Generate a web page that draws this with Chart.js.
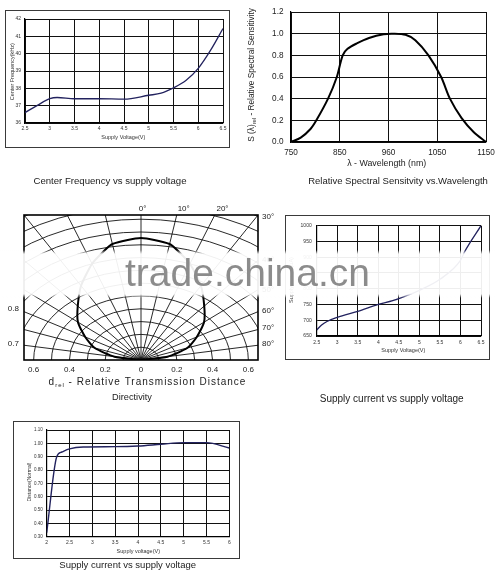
<!DOCTYPE html>
<html><head><meta charset="utf-8">
<script src="https://cdn.jsdelivr.net/npm/chart.js@4.4.1/dist/chart.umd.min.js"></script>
<style>
html,body{margin:0;padding:0;background:#fff;}
#wrap{position:relative;width:495px;height:574px;overflow:hidden;background:#fff;}
canvas{position:absolute;left:0;top:0;}
.frame{position:absolute;border:1px solid #3a3a3a;box-sizing:border-box;}
#band{position:absolute;left:0;top:250px;width:495px;height:48px;
 background:linear-gradient(to bottom,rgba(255,255,255,0) 0px,rgba(255,255,255,0.93) 4px,rgba(255,255,255,0.93) 44px,rgba(255,255,255,0) 48px);}
#wm{position:absolute;left:125px;top:251px;font:39px "Liberation Sans",Arial,sans-serif;color:rgba(128,128,128,0.9);line-height:44px;white-space:nowrap;}
</style></head>
<body><div id="wrap">
<div class="frame" style="left:5px;top:10px;width:225px;height:138px"></div>
<div class="frame" style="left:285px;top:215px;width:205px;height:145px"></div>
<div class="frame" style="left:13px;top:421px;width:227px;height:138px"></div>
<canvas id="c1" width="495" height="574"></canvas>
<canvas id="c2" width="495" height="574"></canvas>
<canvas id="c3" width="495" height="574"></canvas>
<canvas id="c4" width="495" height="574"></canvas>
<canvas id="c5" width="495" height="574"></canvas>
<div id="band"></div>
<div id="wm">trade.china.cn</div>
</div>
<script>
// ---- Center Frequency vs supply voltage ----
const freqVolt = [2.5, 2.75, 3.0, 3.15, 3.5, 4.0, 4.5, 5.0, 5.25, 5.5, 5.75, 6.0, 6.25, 6.5];
const freqKHz  = [36.6, 37.02, 37.4, 37.47, 37.4, 37.4, 37.38, 37.6, 37.72, 38.03, 38.45, 39.15, 40.2, 41.45];
const freqXTicks = [2.5, 3, 3.5, 4, 4.5, 5, 5.5, 6, 6.5];
const freqYTicks = [36, 37, 38, 39, 40, 41, 42];

// ---- Relative Spectral Sensitivity vs Wavelength ----
const specWave = [750, 770, 790, 802, 826, 844, 856, 866, 885, 910, 940, 960, 985, 1005, 1032, 1058, 1076, 1100, 1125, 1150];
const specRel  = [0, 0.04, 0.12, 0.2, 0.4, 0.6, 0.8, 0.86, 0.91, 0.96, 0.995, 1.0, 0.99, 0.94, 0.8, 0.6, 0.4, 0.22, 0.09, 0.0];
const specXTicks = [750, 850, 950, 1050, 1150];
const specXLabels = ['750', '850', '960', '1050', '1150'];
const specYTicks = [0, 0.2, 0.4, 0.6, 0.8, 1.0, 1.2];

// ---- Directivity ----
const dirAngles = [-90, -80, -70, -60, -50, -40, -30, -20, -14, -10, 0, 10, 14, 20, 30, 40, 50, 60, 70, 80, 90];
const dirDist   = [0, 0.15, 0.275, 0.36, 0.46, 0.55, 0.67, 0.8, 0.872, 0.92, 0.953, 0.92, 0.872, 0.8, 0.67, 0.55, 0.46, 0.36, 0.275, 0.15, 0];
const dirRings  = [0.1, 0.2, 0.3, 0.4, 0.5, 0.6, 0.7, 0.8, 0.9, 1.0, 1.1, 1.2, 1.3];
const dirSpokes = [-80, -70, -60, -50, -40, -30, -20, -10, 0, 10, 20, 30, 40, 50, 60, 70, 80];
const dirXTicks = [-0.6, -0.4, -0.2, 0, 0.2, 0.4, 0.6];
const dirXLabels = ['0.6', '0.4', '0.2', '0', '0.2', '0.4', '0.6'];

// ---- Supply current vs supply voltage ----
const curVolt = [2.5, 2.62, 2.75, 3.0, 3.5, 4.0, 4.35, 4.63, 5.0, 5.5, 6.0, 6.1, 6.5];
const curUA   = [669, 685, 696, 709, 728, 750, 762, 775, 795, 830, 890, 917, 1000];
const curXTicks = [2.5, 3, 3.5, 4, 4.5, 5, 5.5, 6, 6.5];
const curYTicks = [650, 700, 750, 800, 850, 900, 950, 1000];

// ---- Distance vs supply voltage ----
const distVolt = [2.0, 2.22, 2.33, 2.5, 2.8, 3.5, 4.0, 4.5, 5.0, 5.5, 6.0];
const distRel  = [0.33, 0.9, 0.935, 0.958, 0.972, 0.975, 0.98, 0.993, 1.005, 1.005, 0.965];
const distXTicks = [2, 2.5, 3, 3.5, 4, 4.5, 5, 5.5, 6];
const distYTicks = [0.3, 0.4, 0.5, 0.6, 0.7, 0.8, 0.9, 1.0, 1.1];

const FONT = '"Liberation Sans", Arial, sans-serif';
Chart.defaults.font.family = FONT;
Chart.defaults.color = '#222';
const XH = 20;

function fixAxis(isX, size) {
  return function (s) {
    if (isX) s.height = size; else s.width = size;
    s.paddingLeft = 0; s.paddingRight = 0; s.paddingTop = 0; s.paddingBottom = 0;
  };
}

function textPlugin(items) {
  return {
    id: 'texts',
    afterDraw(chart) {
      const ctx = chart.ctx;
      items.forEach(it => {
        ctx.save();
        ctx.translate(it.x, it.y);
        if (it.rot) ctx.rotate(it.rot * Math.PI / 180);
        ctx.fillStyle = it.color || '#222';
        ctx.textBaseline = 'middle';
        ctx.textAlign = 'left';
        if ('letterSpacing' in ctx) ctx.letterSpacing = it.ls || '0px';
        const segs = it.segs || [[it.t, 1, 0]];
        let total = 0;
        segs.forEach(sg => { ctx.font = (it.size * sg[1]) + 'px ' + FONT; total += ctx.measureText(sg[0]).width; });
        let x = it.align === 'left' ? 0 : (it.align === 'right' ? -total : -total / 2);
        segs.forEach(sg => {
          ctx.font = (it.size * sg[1]) + 'px ' + FONT;
          ctx.fillText(sg[0], x, sg[2]);
          x += ctx.measureText(sg[0]).width;
        });
        ctx.restore();
      });
    }
  };
}

function lineChart(id, o) {
  const YW = Math.min(40, o.area[0]);
  return new Chart(document.getElementById(id), {
    type: 'line',
    data: { datasets: [{
      data: o.xs.map((x, i) => ({ x: x, y: o.ys[i] })),
      borderColor: o.color, borderWidth: o.lw, pointRadius: 0,
      cubicInterpolationMode: o.mono ? 'monotone' : 'default', tension: o.tension || 0, fill: false
    }] },
    options: {
      responsive: false, animation: false, events: [],
      layout: { padding: { left: o.area[0] - YW, top: o.area[1], right: 495 - o.area[2], bottom: 574 - o.area[3] - XH } },
      plugins: { legend: { display: false }, tooltip: { enabled: false } },
      scales: {
        x: {
          type: 'linear', min: o.xmin, max: o.xmax, afterFit: fixAxis(true, XH),
          afterBuildTicks: s => { s.ticks = o.xt.map(v => ({ value: v })); },
          ticks: { callback: (v, i) => o.xl[i], font: { size: o.fs }, color: o.tc, padding: o.xpad, maxRotation: 0, minRotation: 0, autoSkip: false },
          grid: { color: o.gc, lineWidth: o.gw, drawTicks: false },
          border: { display: true, color: '#000', width: o.bw }
        },
        y: {
          type: 'linear', min: o.ymin, max: o.ymax, afterFit: fixAxis(false, YW),
          afterBuildTicks: s => { s.ticks = o.yt.map(v => ({ value: v })); },
          ticks: { callback: (v, i) => o.yl[i], font: { size: o.yfs || o.fs }, color: o.tc, padding: o.ypad, autoSkip: false },
          grid: { color: o.gc, lineWidth: o.gw, drawTicks: false },
          border: { display: true, color: '#000', width: o.bw }
        }
      }
    },
    plugins: [textPlugin(o.texts)]
  });
}

const NAVY = '#22225e';

// Chart 1
lineChart('c1', {
  xs: freqVolt, ys: freqKHz, color: NAVY, lw: 1.3, mono: true,
  area: [25, 19, 223, 123], xmin: 2.5, xmax: 6.5, ymin: 36, ymax: 42,
  xt: freqXTicks, xl: freqXTicks.map(String), yt: freqYTicks, yl: freqYTicks.map(String),
  fs: 5, tc: '#333', xpad: 2.3, ypad: 4, gc: '#111', gw: 1, bw: 1.2,
  texts: [
    { t: 'Center Frequency(kHz)', x: 12.7, y: 71.7, size: 5.5, rot: -90, color: '#333' },
    { t: 'Supply Voltage(V)', x: 123.3, y: 137.3, size: 5.5, color: '#333' },
    { t: 'Center Frequency vs supply voltage', x: 110, y: 181, size: 9.6 }
  ]
});

// Chart 2
lineChart('c2', {
  xs: specWave, ys: specRel, color: '#000', lw: 2, tension: 0.3,
  area: [291, 12, 486, 142], xmin: 750, xmax: 1150, ymin: 0, ymax: 1.2,
  xt: specXTicks, xl: specXLabels, yt: specYTicks, yl: specYTicks.map(v => v.toFixed(1)),
  fs: 8.2, tc: '#222', xpad: 5.5, ypad: 7.5, gc: '#111', gw: 1, bw: 1.2,
  texts: [
    { segs: [['S (λ)', 1, 0], ['rel', 0.7, 2.5], [' - Relative Spectral Sensitivity', 1, 0]], x: 251.7, y: 75, size: 8.3, rot: -90 },
    { t: 'λ - Wavelength (nm)', x: 386.7, y: 164, size: 8.8 },
    { t: 'Relative Spectral Sensitvity vs.Wavelength', x: 398, y: 181.7, size: 9.5 }
  ]
});

// Chart 3 - directivity
const polarGrid = {
  id: 'polarGrid',
  beforeDatasetsDraw(chart) {
    const { ctx, chartArea: a, scales: { x, y } } = chart;
    const cx = x.getPixelForValue(0), cy = y.getPixelForValue(0);
    ctx.save();
    ctx.beginPath(); ctx.rect(a.left, a.top, a.right - a.left, a.bottom - a.top); ctx.clip();
    ctx.strokeStyle = '#111'; ctx.lineWidth = 0.9;
    dirRings.forEach(r => {
      const rx = x.getPixelForValue(r) - cx, ry = cy - y.getPixelForValue(r);
      ctx.beginPath(); ctx.ellipse(cx, cy, rx, ry, 0, Math.PI, 2 * Math.PI); ctx.stroke();
    });
    dirSpokes.forEach(d => {
      const t = d * Math.PI / 180;
      ctx.beginPath(); ctx.moveTo(cx, cy);
      ctx.lineTo(x.getPixelForValue(2 * Math.sin(t)), y.getPixelForValue(2 * Math.cos(t)));
      ctx.stroke();
    });
    ctx.restore();
  },
  afterDatasetsDraw(chart) {
    const { ctx, chartArea: a } = chart;
    ctx.save(); ctx.strokeStyle = '#000'; ctx.lineWidth = 1.6;
    ctx.strokeRect(a.left, a.top, a.right - a.left, a.bottom - a.top);
    ctx.restore();
  }
};
new Chart(document.getElementById('c3'), {
  type: 'line',
  data: { datasets: [{
    data: dirAngles.map((ang, i) => ({ x: dirDist[i] * Math.sin(ang * Math.PI / 180), y: dirDist[i] * Math.cos(ang * Math.PI / 180) })),
    borderColor: '#000', borderWidth: 2, pointRadius: 0, tension: 0.2, fill: false
  }] },
  options: {
    responsive: false, animation: false, events: [],
    layout: { padding: { left: 24, top: 215, right: 495 - 258, bottom: 574 - 360 - XH } },
    plugins: { legend: { display: false }, tooltip: { enabled: false } },
    scales: {
      x: {
        type: 'linear', min: -0.654, max: 0.654, afterFit: fixAxis(true, XH),
        afterBuildTicks: s => { s.ticks = dirXTicks.map(v => ({ value: v })); },
        ticks: { callback: (v, i) => dirXLabels[i], font: { size: 8 }, color: '#222', padding: 5.2, maxRotation: 0, minRotation: 0, autoSkip: false },
        grid: { display: false, drawTicks: false }, border: { display: false }
      },
      y: { type: 'linear', min: 0, max: 1.133, display: false }
    }
  },
  plugins: [polarGrid, textPlugin([
    { t: '0.8', x: 13.3, y: 308.3, size: 8 },
    { t: '0.7', x: 13.3, y: 344, size: 8 },
    { t: '0°', x: 142.5, y: 209, size: 8 },
    { t: '10°', x: 183.7, y: 209, size: 8 },
    { t: '20°', x: 222.5, y: 209, size: 8 },
    { t: '30°', x: 262, y: 217, size: 8, align: 'left' },
    { t: '40°', x: 262, y: 260, size: 8, align: 'left' },
    { t: '50°', x: 262, y: 290, size: 8, align: 'left' },
    { t: '60°', x: 262, y: 311, size: 8, align: 'left' },
    { t: '70°', x: 262, y: 328, size: 8, align: 'left' },
    { t: '80°', x: 262, y: 344, size: 8, align: 'left' },
    { segs: [['d', 1, 0], ['rel', 0.6, 3], [' - Relative Transmission Distance', 1, 0]], x: 147.5, y: 382.3, size: 10, ls: '1px' },
    { t: 'Directivity', x: 132, y: 397.3, size: 9.2 }
  ])]
});

// Chart 4
lineChart('c4', {
  xs: curVolt, ys: curUA, color: NAVY, lw: 1.3, mono: true,
  area: [316.7, 225.7, 481, 336], xmin: 2.5, xmax: 6.5, ymin: 650, ymax: 1000,
  xt: curXTicks, xl: curXTicks.map(String), yt: curYTicks, yl: curYTicks.map(String),
  fs: 5, tc: '#333', xpad: 3.3, ypad: 5, gc: '#111', gw: 1, bw: 1.2,
  texts: [
    { t: 'Supply current(uA)', x: 291.7, y: 280, size: 5.5, rot: -90, color: '#333' },
    { t: 'Supply Voltage(V)', x: 403.3, y: 350, size: 5.5, color: '#333' },
    { t: 'Supply current vs supply voltage', x: 391.7, y: 399, size: 10 }
  ]
});

// Chart 5
lineChart('c5', {
  xs: distVolt, ys: distRel, color: NAVY, lw: 1.4, mono: true,
  area: [46.7, 430, 229.3, 536.7], xmin: 2, xmax: 6, ymin: 0.3, ymax: 1.1,
  xt: distXTicks, xl: distXTicks.map(String), yt: distYTicks, yl: distYTicks.map(v => v.toFixed(2)),
  fs: 5, yfs: 4.5, tc: '#333', xpad: 2.6, ypad: 4, gc: '#111', gw: 1, bw: 1.2,
  texts: [
    { t: 'Distance(Normal)', x: 30, y: 482, size: 5, rot: -90, color: '#333' },
    { t: 'Supply voltage(V)', x: 138.3, y: 551, size: 5.5, color: '#333' },
    { t: 'Supply current vs supply voltage', x: 127.7, y: 565, size: 9.5 }
  ]
});
</script>
</body></html>
